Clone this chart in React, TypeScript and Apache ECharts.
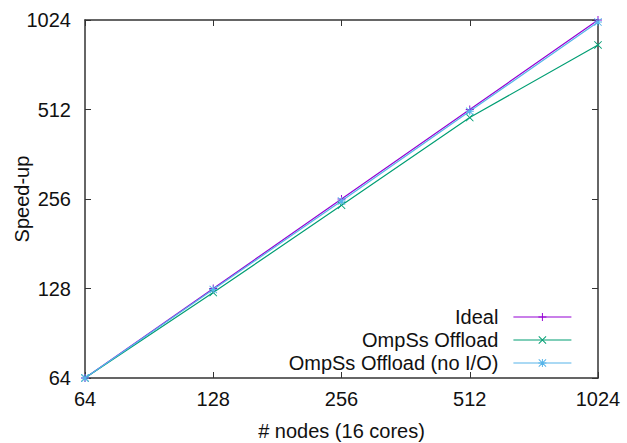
import React, { useEffect, useRef } from "react";
import * as echarts from "echarts";

const nodes = [64, 128, 256, 512, 1024];
const ideal = [64, 128, 256, 512, 1024];
const ompssOffload = [64, 124, 244, 481, 844];
const ompssOffloadNoIO = [64, 127, 252, 505, 1008];
const tickValues = [64, 128, 256, 512, 1024];

const FONT = "Liberation Sans, Arial, Helvetica, sans-serif";

const PLUS = "path://M0,4.4H10V5.6H0Z M4.4,0H5.6V10H4.4Z";
const CROSS =
  "path://M0.8,0L5,4.2L9.2,0L10,0.8L5.8,5L10,9.2L9.2,10L5,5.8L0.8,10L0,9.2L4.2,5L0,0.8Z";
const STAR =
  "path://M0,4.4H10V5.6H0Z M4.4,0H5.6V10H4.4Z M0.8,0L5,4.2L9.2,0L10,0.8L5.8,5L10,9.2L9.2,10L5,5.8L0.8,10L0,9.2L4.2,5L0,0.8Z";

const pairs = (ys: number[]) => nodes.map((x, i) => [x, ys[i]]);

export default function App() {
  const ref = useRef<HTMLDivElement>(null);
  useEffect(() => {
    if (!ref.current) return;
    document.body.style.margin = "0";
    document.body.style.overflow = "hidden";
    const chart = echarts.init(ref.current, undefined, { renderer: "svg" });
    const axisLine = { show: true, lineStyle: { color: "#333", width: 1.5 } };
    const axisTick = { show: true, inside: true, length: 6, lineStyle: { color: "#333", width: 1 } };
    const labelStyle = { color: "#111", fontSize: 20, fontFamily: FONT };
    const mkSeries = (name: string, data: number[], color: string, symbol: string, size: number) => ({
      name,
      type: "line",
      data: pairs(data),
      symbol,
      symbolSize: size,
      showSymbol: true,
      lineStyle: { color, width: 1.2 },
      itemStyle: { color },
      xAxisIndex: 0,
      yAxisIndex: 0,
    });
    chart.setOption({
      animation: false,
      backgroundColor: "#fff",
      grid: { left: 85, right: 29, top: 20, bottom: 65, containLabel: false, outerBoundsMode: "none" },
      xAxis: [
        {
          type: "log",
          logBase: 2,
          min: 64,
          max: 1024,
          interval: 1,
          position: "bottom",
          axisLine,
          axisTick,
          splitLine: { show: false },
          axisLabel: {
            ...labelStyle,
            margin: 11,
            formatter: (v: number) => (tickValues.includes(Math.round(v)) ? String(Math.round(v)) : ""),
          },
          name: "# nodes (16 cores)",
          nameLocation: "middle",
          nameGap: 43,
          nameMoveOverlap: false,
          nameTextStyle: { ...labelStyle },
        },
        {
          type: "log",
          logBase: 2,
          min: 64,
          max: 1024,
          interval: 1,
          position: "top",
          axisLine,
          axisTick,
          splitLine: { show: false },
          axisLabel: { show: false },
        },
      ],
      yAxis: [
        {
          type: "log",
          logBase: 2,
          min: 64,
          max: 1024,
          interval: 1,
          position: "left",
          axisLine,
          axisTick,
          splitLine: { show: false },
          axisLabel: {
            ...labelStyle,
            margin: 14,
            formatter: (v: number) => (tickValues.includes(Math.round(v)) ? String(Math.round(v)) : ""),
          },
          name: "Speed-up",
          nameLocation: "middle",
          nameGap: 53,
          nameMoveOverlap: false,
          nameTextStyle: { ...labelStyle },
        },
        {
          type: "log",
          logBase: 2,
          min: 64,
          max: 1024,
          interval: 1,
          position: "right",
          axisLine,
          axisTick,
          splitLine: { show: false },
          axisLabel: { show: false },
        },
      ],
      legend: {
        orient: "vertical",
        align: "right",
        right: 55,
        top: 307,
        padding: 0,
        itemGap: 3,
        itemWidth: 58,
        itemHeight: 10,
        lineStyle: { width: 1.2 },
        textStyle: { ...labelStyle, lineHeight: 20, padding: [0, 10, 0, 0] },
        data: ["Ideal", "OmpSs Offload", "OmpSs Offload (no I/O)"],
      },
      series: [
        mkSeries("Ideal", ideal, "#9400d3", PLUS, 8),
        mkSeries("OmpSs Offload", ompssOffload, "#009e73", CROSS, 8),
        mkSeries("OmpSs Offload (no I/O)", ompssOffloadNoIO, "#56b4e9", STAR, 8),
      ],
    });
    return () => chart.dispose();
  }, []);
  return <div ref={ref} style={{ position: "absolute", left: 0, top: 0, width: 627, height: 443 }} />;
}
